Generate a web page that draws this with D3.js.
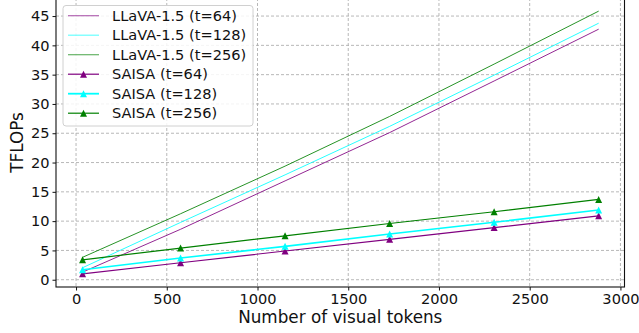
<!DOCTYPE html>
<html><head><meta charset="utf-8">
<script src="https://cdn.jsdelivr.net/npm/d3@7"></script>
<style>body{margin:0;background:#fff}svg{display:block}text{font-family:"DejaVu Sans",sans-serif;fill:#111}</style>
</head><body><svg id="c" width="639" height="333"></svg>
<script>
const tokens = [36, 576, 1152, 1728, 2304, 2880];
const llava64  = [1.3, 8.61, 16.87, 25.11, 33.92, 42.76];
const llava128 = [2.05, 9.78, 17.9, 26.17, 34.92, 43.78];
const llava256 = [3.83, 11.26, 19.39, 27.87, 36.8, 45.84];
const saisa64  = [1.0, 2.9, 4.9, 6.9, 8.9, 10.9];
const saisa128 = [1.7, 3.7, 5.7, 7.8, 9.8, 11.9];
const saisa256 = [3.4, 5.4, 7.5, 9.6, 11.6, 13.7];
const xTicks = [0, 500, 1000, 1500, 2000, 2500, 3000];
const yTicks = [0, 5, 10, 15, 20, 25, 30, 35, 40, 45];
const series = [
  {name:"LLaVA-1.5 (t=64)",  vals:llava64,  color:"purple", marker:false},
  {name:"LLaVA-1.5 (t=128)", vals:llava128, color:"cyan",   marker:false},
  {name:"LLaVA-1.5 (t=256)", vals:llava256, color:"green",  marker:false},
  {name:"SAISA (t=64)",      vals:saisa64,  color:"purple", marker:true},
  {name:"SAISA (t=128)",     vals:saisa128, color:"cyan",   marker:true},
  {name:"SAISA (t=256)",     vals:saisa256, color:"green",  marker:true}
];

const svg = d3.select("#c");
const L = 56, R = 624.5, T = -2, B = 287;
const x = d3.scaleLinear().domain([-110.4, 3022.4]).range([L, R]);
const y = d3.scaleLinear().domain([-1.24, 48.08]).range([B, T]);

// grid
const g = svg.append("g");
g.selectAll("line.gx").data(xTicks).join("line")
  .attr("x1", d=>x(d)).attr("x2", d=>x(d)).attr("y1", T).attr("y2", B)
  .attr("stroke", "#b0b0b0").attr("stroke-width", 0.9).attr("stroke-dasharray", "3,2");
g.selectAll("line.gy").data(yTicks).join("line")
  .attr("y1", d=>y(d)).attr("y2", d=>y(d)).attr("x1", L).attr("x2", R)
  .attr("stroke", "#b0b0b0").attr("stroke-width", 0.9).attr("stroke-dasharray", "3,2");

// series
const line = d3.line().x((d,i)=>x(tokens[i])).y(d=>y(d));
const tri = s => `M0,${-s/2}L${s/2},${s/2}L${-s/2},${s/2}Z`;
series.forEach(s => {
  svg.append("path").attr("d", line(s.vals)).attr("fill","none")
    .attr("stroke", s.color).attr("stroke-width", s.marker ? (s.color==="cyan"?1.6:1.2) : 1)
    .attr("stroke-opacity", s.marker ? 1 : 0.85);
  if (s.marker) {
    svg.selectAll(null).data(s.vals).join("path")
      .attr("transform", (d,i)=>`translate(${x(tokens[i])},${y(d)})`)
      .attr("d", tri(7)).attr("fill", s.color);
  }
});

// axes
const xa = svg.append("g").attr("transform", `translate(0,${B})`)
  .call(d3.axisBottom(x).tickValues(xTicks).tickFormat(d3.format("d")).tickSize(3.5).tickPadding(3));
const ya = svg.append("g").attr("transform", `translate(${L},0)`)
  .call(d3.axisLeft(y).tickValues(yTicks).tickFormat(d3.format("d")).tickSize(3.5).tickPadding(3));
[xa, ya].forEach(a => {
  a.select(".domain").remove();
  a.selectAll("text").style("font-size","14.6px").style("font-family","DejaVu Sans").attr("fill","#111");
  a.selectAll("line").attr("stroke","#111").attr("stroke-width",1);
});
svg.append("rect").attr("x", L).attr("y", T).attr("width", R-L).attr("height", B-T)
  .attr("fill","none").attr("stroke","#111").attr("stroke-width",1.1);

svg.append("text").attr("x", (L+R)/2).attr("y", 323).attr("text-anchor","middle")
  .style("font-size","16.8px").text("Number of visual tokens");
svg.append("text").attr("transform", `translate(23,${(T+B)/2}) rotate(-90)`).attr("text-anchor","middle")
  .style("font-size","16.8px").text("TFLOPs");

// legend
const lg = svg.append("g");
lg.append("rect").attr("x", 63).attr("y", 5.5).attr("width", 190).attr("height", 120.5)
  .attr("rx", 3).attr("fill","#fff").attr("fill-opacity",0.85).attr("stroke","#d0d0d0").attr("stroke-width",1);
series.forEach((s, i) => {
  const yy = 15.7 + i*19.5;
  lg.append("line").attr("x1", 68).attr("x2", 99).attr("y1", yy).attr("y2", yy)
    .attr("stroke", s.color).attr("stroke-width", s.marker ? (s.color==="cyan"?1.8:1.2) : 1.2)
    .attr("stroke-opacity", s.marker ? 1 : 0.6);
  if (s.marker) lg.append("path").attr("transform", `translate(83.5,${yy})`).attr("d", tri(7)).attr("fill", s.color);
  lg.append("text").attr("x", 112).attr("y", yy + 5.2).style("font-size","14.6px").text(s.name);
});
</script></body></html>
